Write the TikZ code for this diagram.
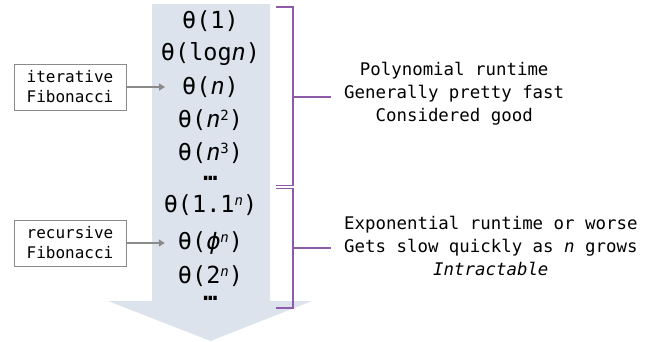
\documentclass[tikz,border=0pt]{standalone}
\usepackage{fontspec}
\setmainfont{DejaVu Sans Mono}
\usetikzlibrary{arrows.meta}
\definecolor{shaftc}{HTML}{DCE3EC}
\definecolor{brk}{HTML}{8E5BAA}
\definecolor{gbox}{HTML}{8A8A8A}
\newcommand{\bigf}{\fontsize{23.5}{27}\selectfont}
\newcommand{\ssp}[1]{\raisebox{0.55ex}{\fontsize{14}{16}\selectfont #1}}
\tikzset{
  big/.style={font=\bigf, inner sep=0pt},
  dots/.style={font=\bigf\bfseries, inner sep=0pt, text height=3pt, text depth=0pt},
  fibbox/.style={draw=gbox, line width=1pt, fill=white, font=\fontsize{16}{20}\selectfont, align=center, minimum width=112pt, minimum height=46pt, inner sep=0pt},
  garrow/.style={draw=gbox, line width=1.2pt, -{Triangle[width=7pt,length=6pt]}},
  brace/.style={draw=brk, line width=1.3pt},
  note/.style={font=\fontsize{17.4}{23}\selectfont, align=center, inner sep=0pt, anchor=west}
}
\begin{document}
\begin{tikzpicture}[x=1pt,y=-1pt]
\useasboundingbox (0,0) rectangle (654,341);
\fill[shaftc] (152,4) -- (270,4) -- (270,301) -- (312,301) -- (210.5,341) -- (108,301) -- (152,301) -- cycle;
\node[big] (t1) at (210.5,21) {θ(1)};
\node[big] (t2) at (210.5,54) {θ(log\textit{n})};
\node[big] (t3) at (210.5,87) {θ(\textit{n})};
\node[big] (t4) at (210.5,120) {θ(\textit{n}\ssp{2})};
\node[big] (t5) at (210.5,153) {θ(\textit{n}\ssp{3})};
\node[dots] (t6) at (210.5,179) {…};
\node[big] (t7) at (210.5,205) {θ(1.1\ssp{\textit{n}})};
\node[big] (t8) at (210.5,243) {θ(\textit{ϕ}\ssp{\textit{n}})};
\node[big] (t9) at (210.5,276) {θ(2\ssp{\textit{n}})};
\node[dots] (t10) at (210.5,299) {…};
\node[fibbox] (it) at (70,87) {iterative\\Fibonacci};
\node[fibbox] (rc) at (70,243) {recursive\\Fibonacci};
\draw[garrow, shorten >=17pt] (it.east) -- (t3.west);
\draw[garrow, shorten >=13pt] (rc.east) -- (t8.west);
\coordinate (a1) at (276,7);
\coordinate (a2) at (293,7);
\coordinate (a3) at (293,185.5);
\coordinate (a4) at (276,185.5);
\coordinate (am) at (293,97);
\coordinate (b1) at (276,188.5);
\coordinate (b2) at (293,188.5);
\coordinate (b3) at (293,308);
\coordinate (b4) at (276,308);
\coordinate (bm) at (293,248);
\node[note] (n1) at (344,94) {Polynomial runtime\\Generally pretty fast\\Considered good};
\node[note] (n2) at (344,246) {Exponential runtime or worse\\Gets slow quickly as \textit{n} grows\\\textit{Intractable}};
\draw[brace] (a1) -- (a2) -- (a3) -- (a4);
\draw[brace] (b1) -- (b2) -- (b3) -- (b4);
\draw[brace] (am) -- ([xshift=-13pt]am -| n1.west);
\draw[brace] (bm) -- ([xshift=-13pt]bm -| n2.west);
\end{tikzpicture}
\end{document}
